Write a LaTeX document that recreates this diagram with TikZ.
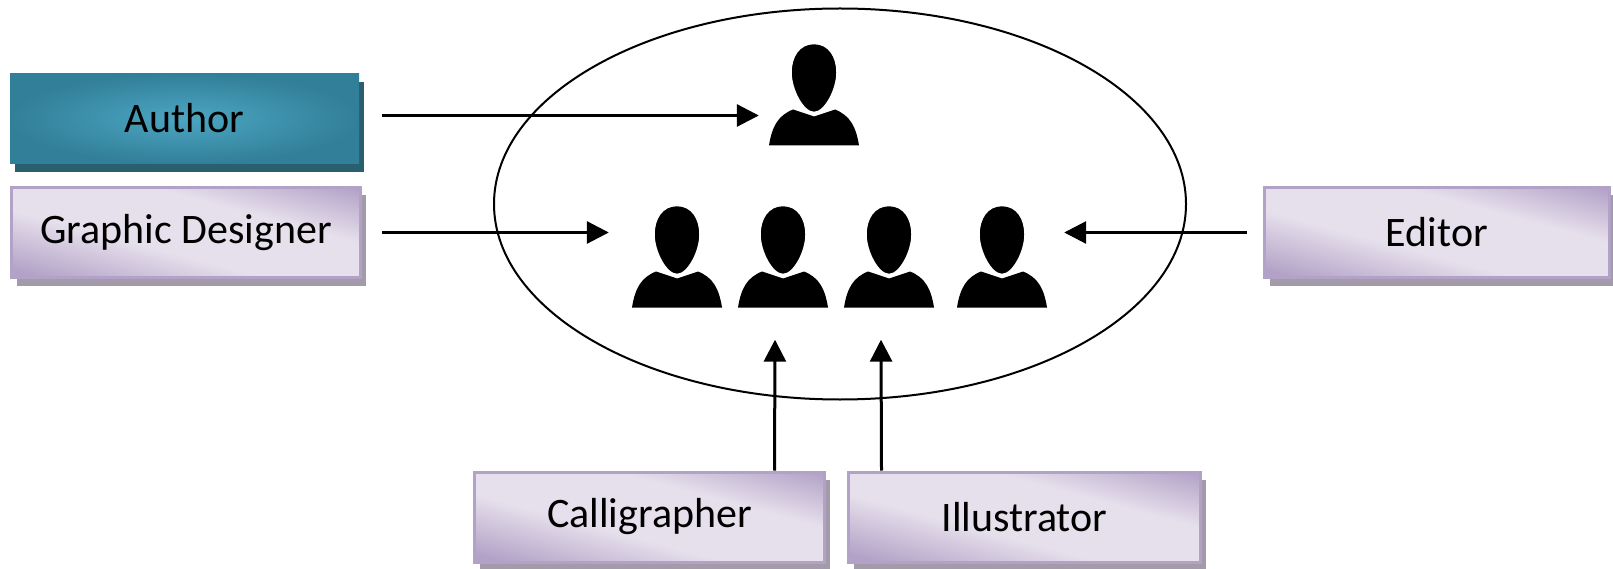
\documentclass[tikz,border=0pt]{standalone}
\usepackage{fontspec}
\setmainfont{Carlito}
\usetikzlibrary{arrows.meta,shapes.geometric,shadows}
\definecolor{lilacedge}{HTML}{B3A2C7}
\definecolor{lilacpale}{HTML}{E6E0EC}
\definecolor{lilacshadow}{HTML}{A49BAA}
\definecolor{tealdark}{HTML}{327F99}
\definecolor{teallight}{HTML}{4CA6C2}
\definecolor{tealshadow}{HTML}{2A5F70}
\pgfdeclareverticalshading{lilacband}{100bp}{
  color(0bp)=(lilacedge); color(22bp)=(lilacedge); color(42bp)=(lilacpale);
  color(62bp)=(lilacpale); color(80bp)=(lilacedge); color(100bp)=(lilacedge)}
\tikzset{
  rolebox/.style={minimum height=90pt,inner sep=0pt,font=\fontsize{42}{44}\selectfont},
  lilacbox/.style={rolebox,draw=lilacedge,line width=3pt,shading=lilacband,shading angle=-15,
    drop shadow={shadow xshift=5pt,shadow yshift=-8pt,fill=lilacshadow,opacity=1}},
  tealbox/.style={rolebox,inner color=teallight,outer color=tealdark,
    drop shadow={shadow xshift=5pt,shadow yshift=-9pt,fill=tealshadow,opacity=1}},
  person/.style={minimum width=90pt,minimum height=102pt,inner sep=0pt,
    path picture={
      \begin{scope}[shift={(path picture bounding box.center)}]
        \fill (-45,51) .. controls (-42,32) and (-36,21) .. (-21,15) -- (0,22) -- (21,15)
          .. controls (36,21) and (42,32) .. (45,51) -- cycle;
        \fill[draw=white,line width=1.5pt] (0,-51) .. controls (15,-51) and (23,-38) .. (23,-22) .. controls (23,-5) and (11,18) .. (0,18)
          .. controls (-11,18) and (-23,-5) .. (-23,-22) .. controls (-23,-38) and (-15,-51) .. (0,-51) -- cycle;
      \end{scope}}},
  link/.style={line width=3pt,-{Triangle[length=22pt,width=22pt]}}
}

\begin{document}
\begin{tikzpicture}[x=1pt,y=-1pt]
  \useasboundingbox (0,0) rectangle (1613,569);
  \node[ellipse,draw,line width=2pt,minimum width=692pt,minimum height=391pt] (team) at (840,204) {};

  \node[person] (chief) at (814,94.5) {};
  \node[person] (artist_a) at (677,256.5) {};
  \node[person] (artist_b) at (783,256.5) {};
  \node[person] (artist_c) at (889,256.5) {};
  \node[person] (artist_d) at (1002,256.5) {};

  \node[tealbox,minimum width=349pt] (author) at (184.5,118.5) {Author};
  \node[lilacbox,minimum width=349pt] (designer) at (186,232.5) {Graphic Designer};
  \node[lilacbox,minimum width=345pt] (editor) at (1437,232.5) {Editor};
  \node[lilacbox,minimum width=350pt] (calligrapher) at (649.5,517) {Calligrapher};
  \node[lilacbox,minimum width=352pt] (illustrator) at (1024.5,517) {Illustrator};

  \draw[link] ([xshift=23pt,yshift=3pt]author.east) -- ([xshift=-10pt,yshift=3pt]author.east -| chief.west);
  \draw[link] ([xshift=20pt]designer.east) -- ([xshift=-23pt]designer.east -| artist_a.west);
  \draw[link] ([xshift=-16pt]editor.west) -- ([xshift=17pt]editor.west -| artist_d.east);
  \draw[link] ([xshift=125pt]calligrapher.north) -- ([xshift=-8pt,yshift=-32pt]artist_b.south);
  \draw[link] ([xshift=-143pt]illustrator.north) -- ([xshift=-8pt,yshift=-32pt]artist_c.south);
\end{tikzpicture}
\end{document}
